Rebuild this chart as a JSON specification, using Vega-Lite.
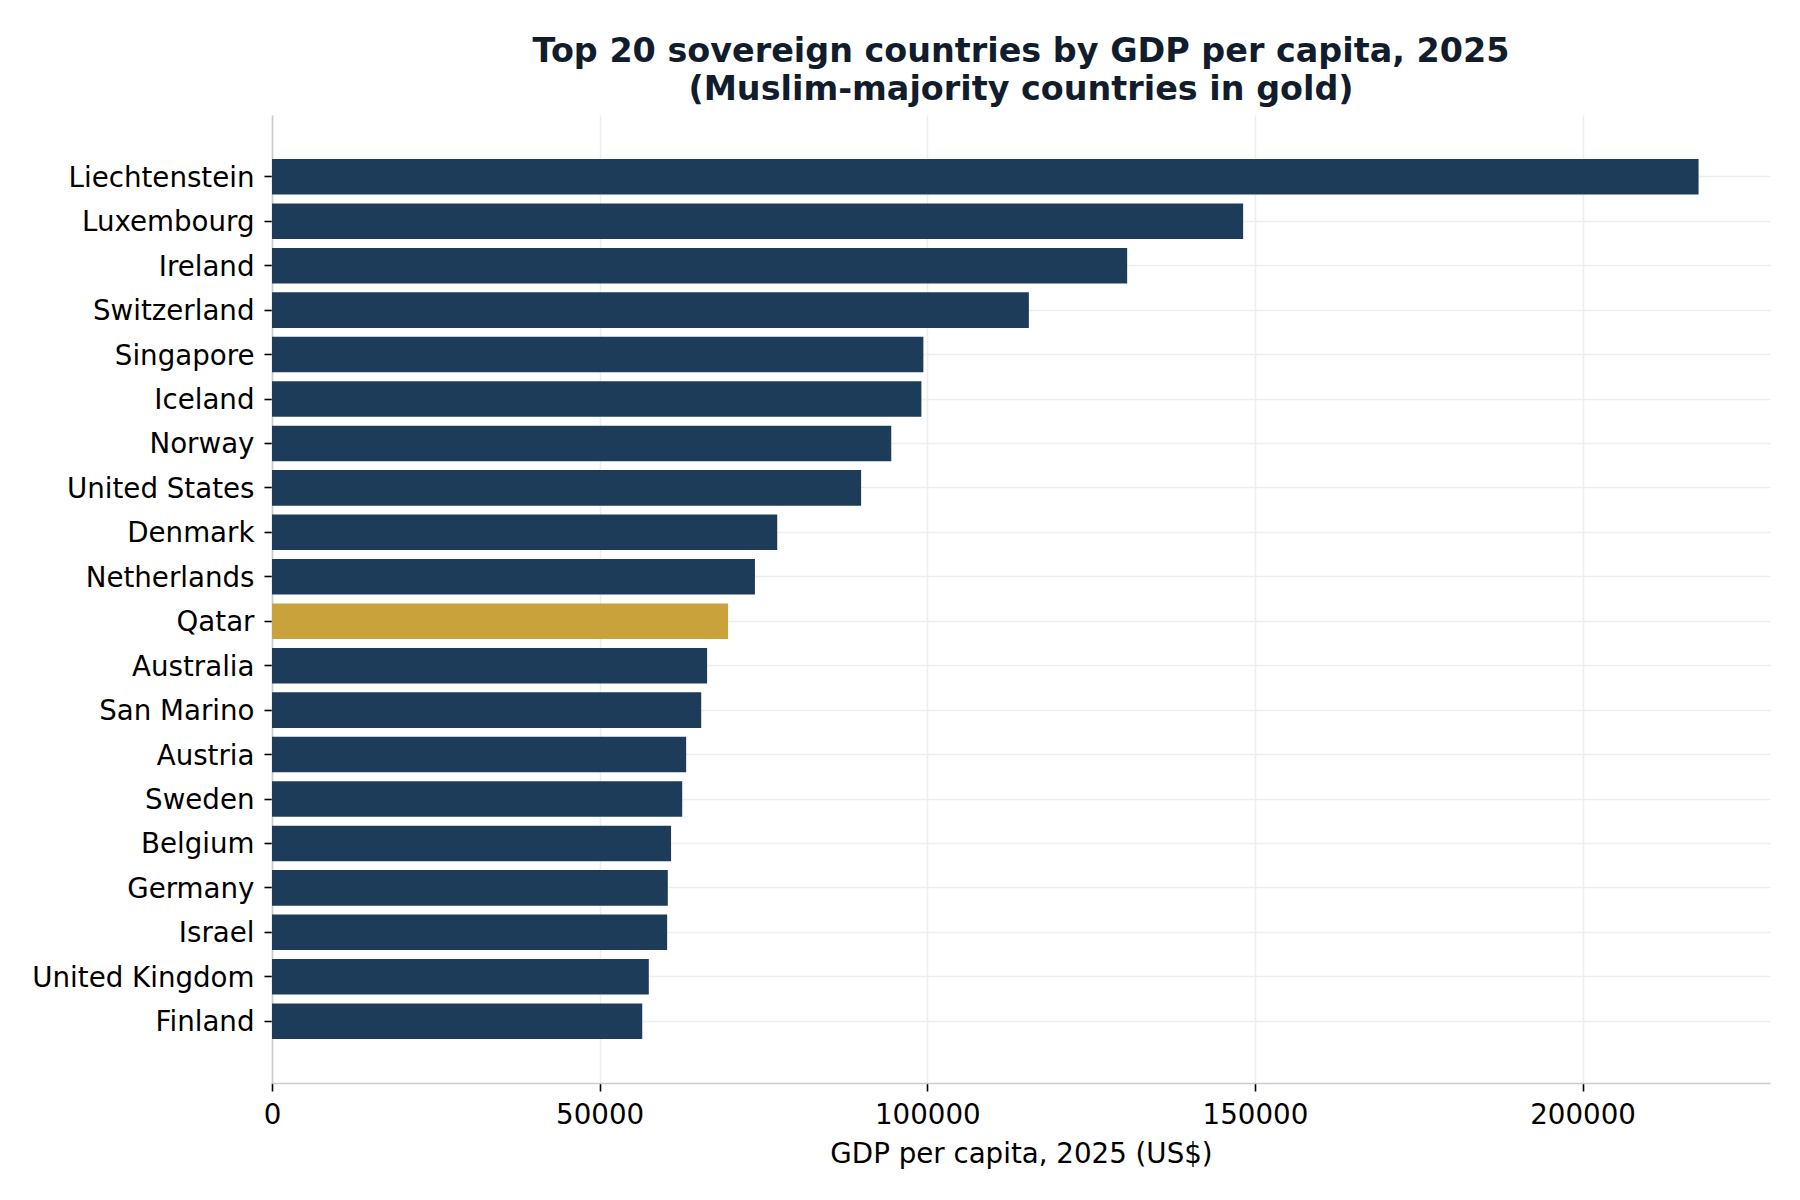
{
  "$schema": "https://vega.github.io/schema/vega-lite/v6.json",
  "width": 1498,
  "height": 968,
  "autosize": "none",
  "padding": {"left": 272, "top": 115, "right": 30, "bottom": 117},
  "background": "white",
  "title": {
    "text": ["Top 20 sovereign countries by GDP per capita, 2025", "(Muslim-majority countries in gold)"],
    "font": "DejaVu Sans",
    "fontSize": 33.4,
    "fontWeight": "bold",
    "color": "#111d2c",
    "lineHeight": 38,
    "anchor": "middle",
    "frame": "group",
    "offset": 8
  },
  "config": {
    "font": "DejaVu Sans",
    "view": {"stroke": null},
    "axis": {
      "labelFont": "DejaVu Sans",
      "labelFontSize": 27.7,
      "labelColor": "black",
      "labelLimit": 0,
      "titleFont": "DejaVu Sans",
      "titleFontSize": 27.7,
      "titleFontWeight": "normal",
      "titleColor": "black",
      "domainColor": "#cccccc",
      "domainWidth": 1.6,
      "tickColor": "black",
      "tickWidth": 1.6,
      "tickSize": 8,
      "gridColor": "#eeeeee",
      "gridWidth": 1.5
    }
  },
  "data": {
    "values": [
      {"country": "Liechtenstein", "gdp": 217700, "group": "Other"},
      {"country": "Luxembourg", "gdp": 148200, "group": "Other"},
      {"country": "Ireland", "gdp": 130500, "group": "Other"},
      {"country": "Switzerland", "gdp": 115500, "group": "Other"},
      {"country": "Singapore", "gdp": 99400, "group": "Other"},
      {"country": "Iceland", "gdp": 99100, "group": "Other"},
      {"country": "Norway", "gdp": 94500, "group": "Other"},
      {"country": "United States", "gdp": 89900, "group": "Other"},
      {"country": "Denmark", "gdp": 77100, "group": "Other"},
      {"country": "Netherlands", "gdp": 73700, "group": "Other"},
      {"country": "Qatar", "gdp": 69600, "group": "Muslim-majority"},
      {"country": "Australia", "gdp": 66400, "group": "Other"},
      {"country": "San Marino", "gdp": 65500, "group": "Other"},
      {"country": "Austria", "gdp": 63200, "group": "Other"},
      {"country": "Sweden", "gdp": 62600, "group": "Other"},
      {"country": "Belgium", "gdp": 60900, "group": "Other"},
      {"country": "Germany", "gdp": 60400, "group": "Other"},
      {"country": "Israel", "gdp": 60300, "group": "Other"},
      {"country": "United Kingdom", "gdp": 57500, "group": "Other"},
      {"country": "Finland", "gdp": 56500, "group": "Other"}
    ]
  },
  "mark": {"type": "bar"},
  "encoding": {
    "y": {
      "field": "country",
      "type": "nominal",
      "sort": "-x",
      "scale": {"paddingInner": 0.2, "paddingOuter": 0.99},
      "axis": {
        "title": null,
        "grid": true,
        "bandPosition": 0.5,
        "labelPadding": 10,
        "labelOffset": 2
      }
    },
    "x": {
      "field": "gdp",
      "type": "quantitative",
      "scale": {"domain": [0, 228600], "nice": false},
      "axis": {
        "title": "GDP per capita, 2025 (US$)",
        "values": [0, 50000, 100000, 150000, 200000],
        "format": "d",
        "grid": true,
        "labelFlush": false,
        "labelPadding": 10,
        "titlePadding": 12
      }
    },
    "color": {
      "field": "group",
      "type": "nominal",
      "scale": {"domain": ["Other", "Muslim-majority"], "range": ["#1d3c59", "#c9a23b"]},
      "legend": null
    }
  }
}
